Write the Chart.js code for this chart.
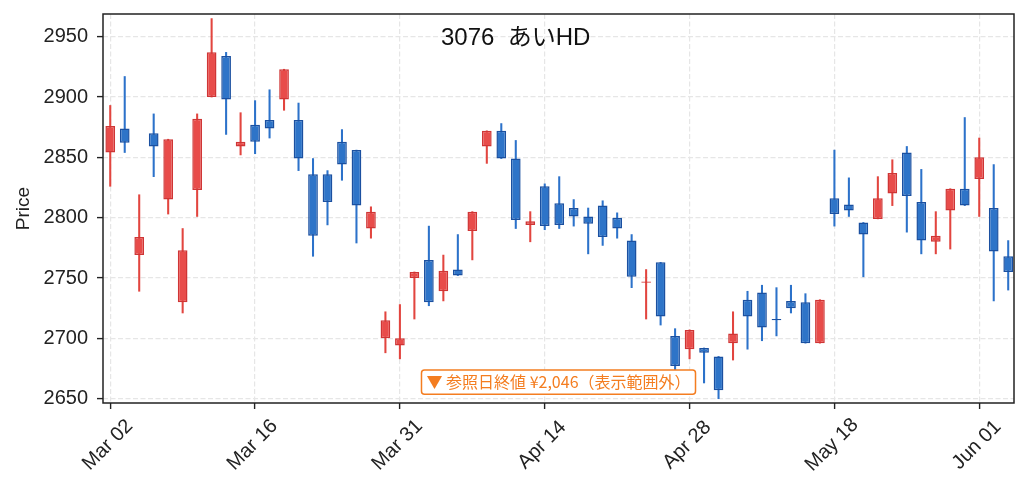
<!DOCTYPE html>
<html>
<head>
<meta charset="utf-8">
<script src="https://cdn.jsdelivr.net/npm/chart.js@4/dist/chart.umd.min.js"></script>
<style>
  html, body { margin: 0; padding: 0; background: #fff; }
  #wrap { width: 1029px; height: 491px; }
</style>
</head>
<body>
<div id="wrap"><canvas id="chart"></canvas></div>
<script>
const title = "3076  あいHD";
const note = "▼ 参照日終値 ¥2,046（表示範囲外）";

const dates = [
  "Mar 02", "Mar 03", "Mar 04", "Mar 05", "Mar 06", "Mar 09", "Mar 10", "Mar 11", "Mar 12", "Mar 13",
  "Mar 16", "Mar 17", "Mar 18", "Mar 19", "Mar 23", "Mar 24", "Mar 25", "Mar 26", "Mar 27", "Mar 30",
  "Mar 31", "Apr 01", "Apr 02", "Apr 03", "Apr 06", "Apr 07", "Apr 08", "Apr 09", "Apr 10", "Apr 13",
  "Apr 14", "Apr 15", "Apr 16", "Apr 17", "Apr 20", "Apr 21", "Apr 22", "Apr 23", "Apr 24", "Apr 27",
  "Apr 28", "Apr 30", "May 01", "May 07", "May 08", "May 11", "May 12", "May 13", "May 14", "May 15",
  "May 18", "May 19", "May 20", "May 21", "May 22", "May 25", "May 26", "May 27", "May 28", "May 29",
  "Jun 01", "Jun 02", "Jun 03"
];

const opens = [
  2854, 2874, 2769, 2870, 2815, 2730, 2823, 2900, 2934, 2859,
  2877, 2881, 2898, 2881, 2836, 2836, 2863, 2856, 2791, 2700,
  2694, 2750, 2765, 2739, 2757, 2789, 2859, 2872, 2849, 2794,
  2826, 2812, 2808, 2801, 2810, 2800, 2781, 2746, 2763, 2702,
  2691, 2692, 2685, 2696, 2732, 2738, 2716, 2731, 2730, 2696,
  2816, 2811, 2796, 2799, 2820, 2854, 2813, 2780, 2806, 2824,
  2832, 2808, 2768
];
const highs = [
  2893, 2917, 2819, 2886, 2865, 2791, 2886, 2965, 2937, 2887,
  2897, 2906, 2923, 2895, 2849, 2839, 2873, 2856, 2809, 2722,
  2728, 2755, 2793, 2769, 2786, 2805, 2872, 2878, 2864, 2805,
  2828, 2834, 2815, 2808, 2814, 2804, 2786, 2757, 2763, 2708,
  2707, 2692, 2685, 2722, 2739, 2744, 2742, 2744, 2737, 2732,
  2856, 2833, 2796, 2834, 2848, 2859, 2840, 2805, 2824, 2883,
  2866, 2844, 2781
];
const lows = [
  2826, 2854, 2739, 2834, 2803, 2721, 2801, 2900, 2869, 2852,
  2853, 2866, 2889, 2839, 2768, 2794, 2831, 2779, 2783, 2688,
  2683, 2716, 2727, 2731, 2752, 2765, 2845, 2849, 2791, 2780,
  2790, 2791, 2793, 2770, 2777, 2783, 2742, 2716, 2711, 2673,
  2683, 2663, 2650, 2682, 2691, 2698, 2702, 2721, 2696, 2696,
  2793, 2801, 2751, 2799, 2810, 2788, 2770, 2770, 2774, 2810,
  2801, 2731, 2740
];
const closes = [
  2876, 2862, 2784, 2859, 2865, 2773, 2882, 2937, 2898, 2863,
  2863, 2874, 2923, 2849, 2785, 2813, 2844, 2810, 2805, 2715,
  2700, 2755, 2730, 2756, 2752, 2805, 2872, 2849, 2798, 2797,
  2793, 2794, 2801, 2795, 2784, 2791, 2751, 2747, 2718, 2677,
  2707, 2688, 2657, 2704, 2718, 2709, 2715, 2725, 2696, 2732,
  2803, 2806, 2786, 2816, 2837, 2818, 2781, 2785, 2824, 2810,
  2850, 2772, 2755
];

const yMin = 2646.4, yMax = 2968.8;

const upFill = "#e84c4a", upEdge = "#cf3535", upWick = "#e2453f";
const dnFill = "#2e74c8", dnEdge = "#1b50a0", dnWick = "#2c72ca";
const ink = "#222222";
const accent = "#f47d20";
const font = "'Liberation Sans', 'Noto Sans CJK JP', sans-serif";
const jpFont = "'Noto Sans CJK JP', sans-serif";

const isUp = i => closes[i] >= opens[i];

const bodies = dates.map((d, i) => ({ x: i, y: [opens[i], closes[i]] }));
const wicks = dates.map((d, i) => ({ x: i, y: [lows[i], highs[i]] }));

// titles, rotated date labels, note box and the frame
const decor = {
  id: "decor",
  afterDraw(chart) {
    const ctx = chart.ctx;
    const a = chart.chartArea;
    const xs = chart.scales.x;

    ctx.save();
    ctx.strokeStyle = ink;
    ctx.lineWidth = 1.5;
    ctx.strokeRect(a.left, a.top, a.right - a.left, a.bottom - a.top);

    ctx.fillStyle = ink;
    ctx.font = "20px " + font;
    ctx.textAlign = "center";
    ctx.textBaseline = "middle";
    xs.ticks.forEach(t => {
      if (dates[t.value] === undefined) return;
      const px = xs.getPixelForValue(t.value);
      ctx.save();
      ctx.translate(px - 2.5, 445);
      ctx.rotate(-Math.PI / 4);
      ctx.fillText(dates[t.value], 0, 0);
      ctx.restore();
    });

    ctx.fillStyle = "#111";
    ctx.font = "24px " + font;
    ctx.textAlign = "left";
    ctx.fillText(title, 441, 38.7);

    const cx = (a.left + a.right) / 2;
    ctx.font = "16px " + jpFont;
    const w = ctx.measureText(note).width + 10;
    ctx.beginPath();
    ctx.roundRect(cx - w / 2, 370, w, 24.3, 3);
    ctx.fillStyle = "#fff";
    ctx.fill();
    ctx.strokeStyle = accent;
    ctx.lineWidth = 1.5;
    ctx.stroke();
    ctx.fillStyle = accent;
    ctx.textAlign = "center";
    ctx.fillText(note, cx, 382.3);
    ctx.restore();
  }
};

const gridOpts = {
  offset: false,
  color: "#e6e6e6",
  lineWidth: 1.2,
  drawTicks: true,
  tickLength: 6,
  tickColor: ink,
  tickWidth: 1.4,
  tickBorderDash: []
};

new Chart(document.getElementById("chart"), {
  type: "bar",
  data: {
    datasets: [
      {
        label: "body",
        data: bodies,
        grouped: false,
        order: 0,
        barPercentage: 0.67,
        categoryPercentage: 1,
        borderWidth: 1.5,
        borderSkipped: false,
        backgroundColor: c => isUp(c.dataIndex) ? upFill : dnFill,
        borderColor: c => isUp(c.dataIndex) ? upEdge : dnEdge
      },
      {
        label: "wick",
        data: wicks,
        grouped: false,
        order: 1,
        barThickness: 1.4,
        borderWidth: 0,
        backgroundColor: c => isUp(c.dataIndex) ? upWick : dnWick
      }
    ]
  },
  plugins: [decor],
  options: {
    responsive: true,
    maintainAspectRatio: false,
    animation: false,
    layout: { padding: { left: 0, right: 15, top: 14, bottom: 0 } },
    plugins: {
      legend: { display: false },
      tooltip: { enabled: false }
    },
    scales: {
      x: {
        type: "linear",
        offset: false,
        min: -0.5,
        max: 62.4,
        afterFit: s => { s.height = 88; s.paddingLeft = 0; s.paddingRight = 0; },
        ticks: { stepSize: 10, includeBounds: false, display: false },
        grid: gridOpts,
        border: { display: false, dash: [5, 2.5] }
      },
      y: {
        min: yMin,
        max: yMax,
        afterFit: s => { s.width = 103; s.paddingTop = 0; s.paddingBottom = 0; },
        ticks: {
          stepSize: 50,
          includeBounds: false,
          padding: 9,
          color: ink,
          font: { family: font, size: 20 },
          callback: v => String(v)
        },
        title: {
          display: true,
          text: "Price",
          color: ink,
          padding: { top: 12, bottom: 0 },
          font: { family: font, size: 19 }
        },
        grid: gridOpts,
        border: { display: false, dash: [5, 2.5] }
      }
    }
  }
});
</script>
</body>
</html>
